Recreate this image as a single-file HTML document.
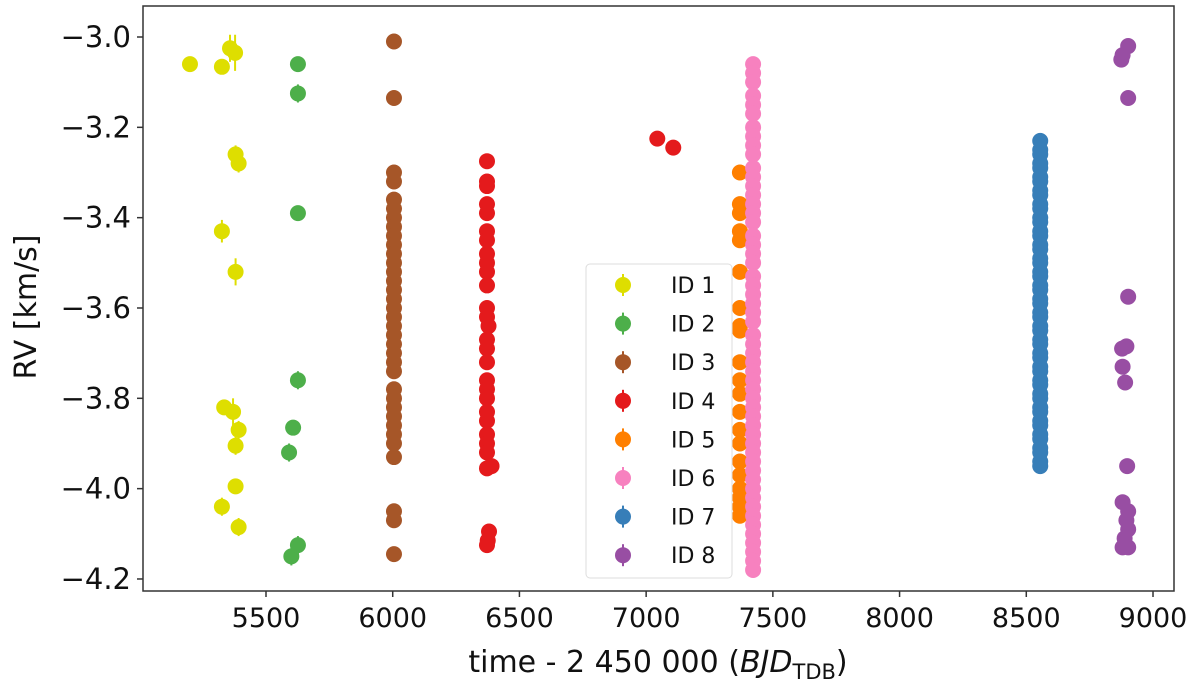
<!DOCTYPE html>
<html><head><meta charset="utf-8"><style>
body{margin:0;background:#fff;}
svg text{font-family:"DejaVu Sans","Liberation Sans",sans-serif;fill:#111;}
</style></head><body>
<svg id="chart" width="1200" height="684" xmlns="http://www.w3.org/2000/svg">
<g id="marks"></g>
<rect x="143" y="6" width="1031" height="585" fill="none" stroke="#333" stroke-width="1.5"/>
<g id="axes"></g>
<text x="658" y="672" font-size="30" text-anchor="middle">time - 2 450 000 (<tspan font-style="italic">BJD</tspan><tspan font-size="21" dy="7">TDB</tspan><tspan dy="-7">)</tspan></text>
<text transform="translate(36,307) rotate(-90)" font-size="30" text-anchor="middle">RV [km/s]</text>
<g id="legend"></g>
</svg>
<script>
const xTicks=[5500,6000,6500,7000,7500,8000,8500,9000];
const yTicks=[-3.0,-3.2,-3.4,-3.6,-3.8,-4.0,-4.2];
const seriesNames=["ID 1","ID 2","ID 3","ID 4","ID 5","ID 6","ID 7","ID 8"];
const colors=["#dede00","#4daf4a","#a65628","#e41a1c","#ff7f00","#f781bf","#377eb8","#984ea3"];
const id1T=[5200,5326,5358,5378,5380,5392,5326,5380,5335,5370,5392,5380,5380,5326,5392];
const id1V=[-3.06,-3.066,-3.025,-3.035,-3.26,-3.28,-3.43,-3.52,-3.82,-3.83,-3.87,-3.905,-3.995,-4.04,-4.085];
const id1E=[0.01,0.01,0.03,0.04,0.02,0.02,0.025,0.03,0.015,0.03,0.02,0.02,0.015,0.02,0.02];
const id2T=[5626,5626,5626,5626,5607,5591,5600,5626];
const id2V=[-3.06,-3.125,-3.39,-3.76,-3.865,-3.92,-4.15,-4.125];
const id2E=[0.015,0.02,0.015,0.02,0.01,0.02,0.02,0.02];
const id3T=[6005];
const id3V=[-3.01,-3.135,-3.30,-3.32,-3.36,-3.38,-3.40,-3.42,-3.44,-3.46,-3.48,-3.50,-3.52,-3.54,-3.56,-3.58,-3.60,-3.62,-3.64,-3.66,-3.68,-3.70,-3.72,-3.74,-3.78,-3.80,-3.82,-3.84,-3.86,-3.88,-3.90,-3.93,-4.05,-4.07,-4.145];
const id4T=[6372,6372,6372,6372,6372,6372,6372,6372,6372,6372,6372,6372,6372,6378,6372,6372,6372,6372,6372,6372,6372,6372,6372,6372,6372,6372,6390,6380,6375,6372,7044,7107];
const id4V=[-3.275,-3.32,-3.33,-3.37,-3.39,-3.43,-3.45,-3.48,-3.50,-3.52,-3.55,-3.60,-3.62,-3.64,-3.67,-3.69,-3.72,-3.76,-3.78,-3.80,-3.83,-3.85,-3.88,-3.90,-3.92,-3.955,-3.95,-4.095,-4.115,-4.125,-3.225,-3.245];
const id5T=[7370];
const id5V=[-3.30,-3.37,-3.39,-3.43,-3.45,-3.52,-3.60,-3.64,-3.65,-3.72,-3.76,-3.79,-3.83,-3.87,-3.90,-3.94,-3.97,-4.00,-4.02,-4.04,-4.06];
const id6T=[7422];
const id6V=[-3.06,-3.08,-3.10,-3.13,-3.15,-3.17,-3.20,-3.22,-3.24,-3.26,-3.29,-3.31,-3.33,-3.35,-3.37,-3.39,-3.41,-3.44,-3.46,-3.48,-3.50,-3.53,-3.55,-3.57,-3.59,-3.61,-3.63,-3.66,-3.68,-3.70,-3.72,-3.74,-3.76,-3.78,-3.80,-3.82,-3.84,-3.86,-3.88,-3.90,-3.92,-3.94,-3.96,-3.98,-4.00,-4.02,-4.04,-4.06,-4.08,-4.10,-4.12,-4.14,-4.16,-4.18];
const id7T=[8555];
const id7V=[-3.23,-3.25,-3.26,-3.28,-3.29,-3.31,-3.32,-3.34,-3.35,-3.37,-3.38,-3.40,-3.41,-3.43,-3.44,-3.46,-3.47,-3.49,-3.50,-3.52,-3.53,-3.55,-3.56,-3.58,-3.59,-3.61,-3.62,-3.64,-3.65,-3.67,-3.68,-3.70,-3.71,-3.73,-3.74,-3.76,-3.77,-3.79,-3.80,-3.82,-3.83,-3.85,-3.86,-3.88,-3.89,-3.91,-3.92,-3.94,-3.95];
const id8T=[8902,8880,8875,8902,8902,8895,8878,8880,8890,8898,8880,8902,8895,8902,8888,8902,8880];
const id8V=[-3.02,-3.04,-3.05,-3.135,-3.575,-3.685,-3.69,-3.73,-3.765,-3.95,-4.03,-4.05,-4.07,-4.09,-4.11,-4.13,-4.13];

const NS="http://www.w3.org/2000/svg";
function xs(t){return 266+(t-5500)*0.25343;}
function ys(v){return 37+(-3.0-v)*451.65;}
function mk(tag,attrs,parent){const e=document.createElementNS(NS,tag);for(const k in attrs)e.setAttribute(k,attrs[k]);parent.appendChild(e);return e;}
const marks=document.getElementById('marks');
const all=[[id1T,id1V,id1E],[id2T,id2V,id2E],[id3T,id3V,null],[id4T,id4V,null],[id5T,id5V,null],[id6T,id6V,null],[id7T,id7V,null],[id8T,id8V,null]];
all.forEach((s,si)=>{
  const g=mk('g',{},marks);
  
  
  s[1].forEach((v,i)=>{
    const t=s[0].length===1?s[0][0]:s[0][i];
    const e=s[2]?s[2][i]:0.012;
    const x=xs(t),y=ys(v);
    const l=mk('line',{x1:x,x2:x,y1:ys(v+e),y2:ys(v-e),stroke:colors[si],'stroke-width':2},g);
    
    
    const c=mk('circle',{cx:x,cy:y,r:8,fill:colors[si]},g);
    
    
  });
});
const axes=document.getElementById('axes');
xTicks.forEach(t=>{
  const x=xs(t);
  const l=mk('line',{x1:x,x2:x,y1:591,y2:597,stroke:'#333','stroke-width':1.5},axes);
  
  
  const tx=mk('text',{x:x,y:627,'font-size':27,'text-anchor':'middle'},axes);
  tx.textContent=String(t);
  
  
});
yTicks.forEach(v=>{
  const y=ys(v);
  const l=mk('line',{x1:137,x2:143,y1:y,y2:y,stroke:'#333','stroke-width':1.5},axes);
  
  
  const tx=mk('text',{x:131,y:y+10,'font-size':29,'text-anchor':'end'},axes);
  tx.textContent='\u2212'+Math.abs(v).toFixed(1);
  
  
});
const leg=document.getElementById('legend');
const box=mk('rect',{x:586,y:264,width:146,height:314,rx:4,fill:'rgba(255,255,255,0.85)',stroke:'#ddd','stroke-width':1},leg);


seriesNames.forEach((n,i)=>{
  const y=285+i*38.6;
  const g=mk('g',{},leg);
  
  
  mk('line',{x1:623,x2:623,y1:y-11,y2:y+11,stroke:colors[i],'stroke-width':2},g);
  mk('circle',{cx:623,cy:y,r:8,fill:colors[i]},g);
  const tx=mk('text',{x:671,y:y+8,'font-size':22},g);
  tx.textContent=n;
});
</script>
</body></html>
